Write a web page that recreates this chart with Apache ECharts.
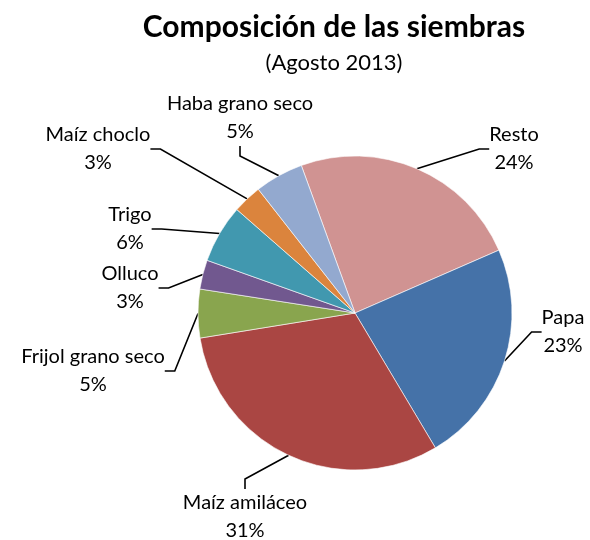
<!DOCTYPE html>
<html>
<head>
<meta charset="utf-8" />
<title>Composición de las siembras</title>
<script src="https://cdn.jsdelivr.net/npm/echarts@6/dist/echarts.min.js"></script>
<style>
  html, body { margin: 0; padding: 0; background: #fff; }
  #main { width: 590px; height: 540px; }
</style>
</head>
<body>
<div id="main"></div>
<script>
// datos (porcentajes)
var categorias = ['Resto', 'Papa', 'Maíz amiláceo', 'Frijol grano seco', 'Olluco', 'Trigo', 'Maíz choclo', 'Haba grano seco'];
var valores = [24, 23, 31, 5, 3, 6, 3, 5];
var colores = ['#D09392', '#4572A8', '#AA4643', '#89A54E', '#71588F', '#4198AF', '#DB843D', '#93A9CF'];
// donde va cada etiqueta (centro del bloque de texto)
var posEtiquetas = [[514, 149], [563, 332], [245, 517], [93, 371], [130, 288], [130, 229], [98, 149], [240, 118]];

var myChart = echarts.init(document.getElementById('main'));

var datos = categorias.map(function (c, i) {
  return { name: c, value: valores[i], itemStyle: { color: colores[i] } };
});

myChart.setOption({
  animation: false,
  title: {
    text: 'Composición de las siembras',
    subtext: '(Agosto 2013)',
    left: 329,
    top: 7,
    textAlign: 'center',
    itemGap: 10,
    textStyle: { fontFamily: 'Lato', fontWeight: 'bold', fontSize: 30, color: '#000' },
    subtextStyle: { fontFamily: 'Lato', fontSize: 22, color: '#000' }
  },
  series: [{
    type: 'pie',
    center: [355, 313],
    radius: 157,
    startAngle: 110,
    clockwise: true,
    data: datos,
    itemStyle: { borderColor: '#fff', borderWidth: 0.6 },
    label: {
      show: true,
      formatter: function (p) { return p.name + '\n' + p.value + '%'; },
      fontFamily: 'Lato',
      fontSize: 20,
      lineHeight: 28,
      color: '#000',
      align: 'center'
    },
    labelLine: {
      show: true,
      length: 15,
      length2: 10,
      lineStyle: { color: '#000', width: 1.6 }
    },
    labelLayout: function (params) {
      var p = posEtiquetas[params.dataIndex];
      return { x: p[0], y: p[1], align: 'center', verticalAlign: 'middle' };
    }
  }]
});

window.onresize = function () {
  myChart.resize();
};
</script>
</body>
</html>
